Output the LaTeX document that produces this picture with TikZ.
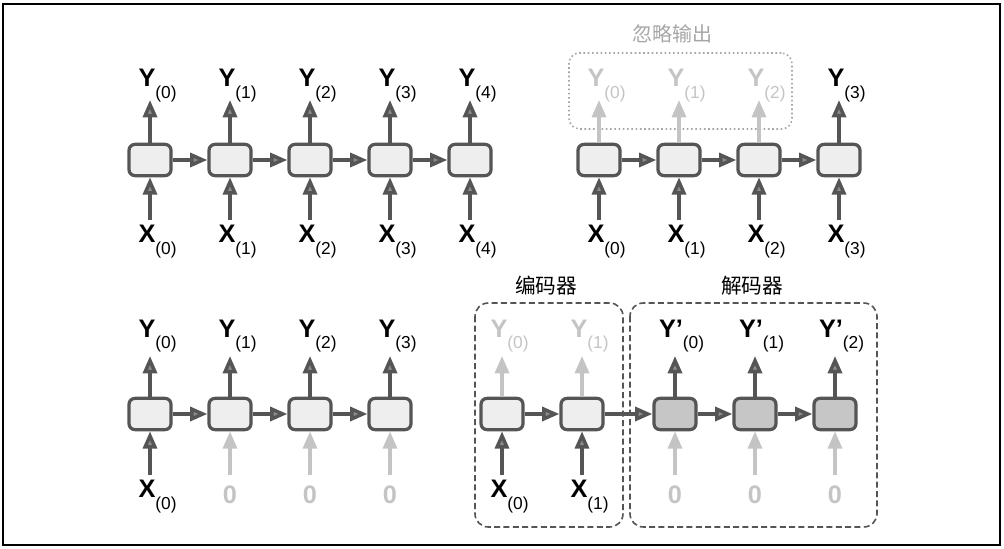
\documentclass[tikz,border=0pt]{standalone}
\usepackage{fontspec}
\setmainfont{Liberation Sans}
\newfontfamily\cjk{Noto Sans CJK SC}
\usepackage{tikz}
\usetikzlibrary{arrows.meta, positioning}
\usepackage{xcolor}
\definecolor{celldraw}{HTML}{555555}
\definecolor{cellfill}{HTML}{EEEEEE}
\definecolor{decfill}{HTML}{C6C6C6}
\definecolor{faint}{HTML}{C4C4C4}
\definecolor{tipfill}{HTML}{8C8C8C}
\definecolor{notegray}{HTML}{A6A6A6}
\newcommand{\seqlbl}[2]{#1\rlap{\raisebox{-9pt}{\fontsize{13pt}{15pt}\selectfont\mdseries(#2)}}}

\begin{document}
\begin{tikzpicture}[x=0.75pt, y=-0.75pt,
            cell/.style={ rectangle, draw=celldraw, line width=2.4pt, rounded corners=4.5pt, fill=cellfill, minimum width=31.5pt, minimum height=23.5pt },
            deccell/.style={ cell, fill=decfill },
            lbl/.style={ anchor=base, inner sep=0pt, font=\fontsize{19pt}{22pt}\selectfont\bfseries },
            arrow/.style={ -{Triangle[length=13pt, width=10.5pt, fill=tipfill]}, line width=2.6pt, draw=celldraw },
            faded/.style={ -{Triangle[length=13pt, width=10.5pt]}, line width=2.6pt, draw=faint },
            groupbox/.style={ draw=celldraw, line width=1.2pt, dash pattern=on 4.5pt off 2.5pt, rounded corners=10pt },
            ignorebox/.style={ draw=notegray, line width=1.2pt, dotted, rounded corners=8pt }
        ]
            \useasboundingbox (0,0) rectangle (1004,549);
            \draw[line width=0.8pt] (3,4) rectangle (1000,545);

            % Top left: sequence to sequence
            \foreach \i in {0,...,4} {
                \pgfmathsetmacro{\x}{150+80*\i}
                \node (a\i) [cell] at (\x,160) {};
                \coordinate (ay\i) at (\x,100);
                \coordinate (ax\i) at (\x,220);
                \node (ya\i) [lbl] at (\x-3,87) {\seqlbl{Y}{\i}};
                \node (xa\i) [lbl] at (\x-3,243) {\seqlbl{X}{\i}};
                \draw[arrow] (a\i) -- (ay\i);
                \draw[arrow] (ax\i) -- (a\i);
            }
            \foreach \i [count=\j] in {0,...,3} \draw[arrow] (a\i) -- (a\j);

            % Top right: sequence to vector
            \node (ignore) [ignorebox, minimum width=167.25pt, minimum height=57pt] at (680.5,91) {};
            \node (ignoretext) [font=\cjk\fontsize{15pt}{18pt}\selectfont, text=notegray] at (672,34) {忽略输出};
            \foreach \i/\s/\c in {0/faded/faint, 1/faded/faint, 2/faded/faint, 3/arrow/black} {
                \pgfmathsetmacro{\x}{599+80*\i}
                \node (b\i) [cell] at (\x,160) {};
                \coordinate (by\i) at (\x,100);
                \coordinate (bx\i) at (\x,220);
                \node (yb\i) [lbl, text=\c] at (\x-3,87) {\seqlbl{Y}{\i}};
                \node (xb\i) [lbl] at (\x-3,243) {\seqlbl{X}{\i}};
                \draw[\s] (b\i) -- (by\i);
                \draw[arrow] (bx\i) -- (b\i);
            }
            \foreach \i [count=\j] in {0,...,2} \draw[arrow] (b\i) -- (b\j);

            % Bottom left: vector to sequence
            \foreach \i in {0,...,3} {
                \pgfmathsetmacro{\x}{150+80*\i}
                \node (c\i) [cell] at (\x,414) {};
                \coordinate (cy\i) at (\x,356);
                \coordinate (cx\i) at (\x,475);
                \node (yc\i) [lbl] at (\x-3,337) {\seqlbl{Y}{\i}};
                \draw[arrow] (c\i) -- (cy\i);
            }
            \node (xc0) [lbl] at (147,497) {\seqlbl{X}{0}};
            \draw[arrow] (cx0) -- (c0);
            \foreach \i in {1,2,3} {
                \node (zc\i) [lbl, text=faint] at (150+80*\i,503) {0};
                \draw[faded] (cx\i) -- (c\i);
            }
            \foreach \i [count=\j] in {0,...,2} \draw[arrow] (c\i) -- (c\j);

            % Bottom right: encoder
            \draw[groupbox] (475,303) rectangle (623,527);
            \node (enctext) [font=\cjk\fontsize{15.5pt}{18pt}\selectfont] at (546,286) {编码器};
            \foreach \i in {0,1} {
                \pgfmathsetmacro{\x}{502+80*\i}
                \node (e\i) [cell] at (\x,414) {};
                \coordinate (ey\i) at (\x,356);
                \coordinate (ex\i) at (\x,475);
                \node (ye\i) [lbl, text=faint] at (\x-3,337) {\seqlbl{Y}{\i}};
                \node (xe\i) [lbl] at (\x-3,497) {\seqlbl{X}{\i}};
                \draw[faded] (e\i) -- (ey\i);
                \draw[arrow] (ex\i) -- (e\i);
            }
            \draw[arrow] (e0) -- (e1);

            % Bottom right: decoder
            \draw[groupbox] (630,303) rectangle (877,527);
            \node (dectext) [font=\cjk\fontsize{15.5pt}{18pt}\selectfont] at (752,286) {解码器};
            \foreach \i in {0,1,2} {
                \pgfmathsetmacro{\x}{675+80*\i}
                \node (d\i) [deccell] at (\x,414) {};
                \coordinate (dy\i) at (\x,356);
                \coordinate (dx\i) at (\x,475);
                \node (yd\i) [lbl] at (\x-4,337) {\seqlbl{Y’}{\i}};
                \node (zd\i) [lbl, text=faint] at (\x,503) {0};
                \draw[arrow] (d\i) -- (dy\i);
                \draw[faded] (dx\i) -- (d\i);
            }
            \draw[arrow] (e1) -- (d0);
            \foreach \i [count=\j] in {0,1} \draw[arrow] (d\i) -- (d\j);

        \end{tikzpicture}
\end{document}
